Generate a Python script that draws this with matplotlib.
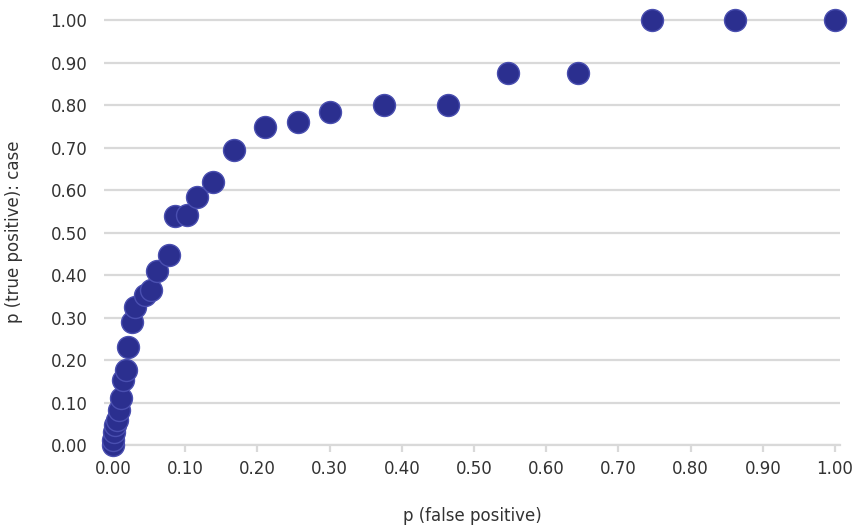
import matplotlib.pyplot as plt
import numpy as np

# puntos de la curva ROC
fp = [0.000, 0.000, 0.002, 0.003, 0.006, 0.008, 0.011, 0.014, 0.018, 0.021,
      0.026, 0.030, 0.044, 0.053, 0.061, 0.078, 0.086, 0.102, 0.116, 0.139,
      0.168, 0.210, 0.256, 0.300, 0.375, 0.464, 0.547, 0.644, 0.746, 0.862,
      1.000]
tp = [0.000, 0.012, 0.030, 0.048, 0.060, 0.082, 0.110, 0.153, 0.176, 0.230,
      0.290, 0.325, 0.353, 0.365, 0.410, 0.447, 0.539, 0.541, 0.584, 0.619,
      0.694, 0.748, 0.760, 0.784, 0.800, 0.800, 0.875, 0.875, 1.000, 1.000,
      1.000]

ticks = np.arange(0, 1.01, 0.1)
tick_labels = [f"{t:.2f}" for t in ticks]

plt.rcParams['font.family'] = ['DejaVu Sans']
fig = plt.figure(figsize=(8.54, 5.25), dpi=100)
ax = fig.add_axes([104 / 854, 1 - 445 / 525, 736 / 854, 427 / 525])

ax.scatter(fp, tp, s=250, color='#2B2F8F', edgecolors='#4A4FB0',
           linewidths=1.0, zorder=3, clip_on=False)

ax.set_xlim(-0.0125, 1.007)
ax.set_ylim(0, 1.005)
ax.set_xticks(ticks)
ax.set_xticklabels(tick_labels)
ax.set_yticks(ticks)
ax.set_yticklabels(tick_labels)

ax.grid(axis='y', color='#D9D9D9', linewidth=1.6, zorder=0)
for s in ['top', 'right', 'left']:
    ax.spines[s].set_visible(False)
ax.spines['bottom'].set_color('#D9D9D9')
ax.spines['bottom'].set_linewidth(1.6)

ax.tick_params(axis='x', length=5, width=1.6, color='#D9D9D9', pad=6,
               labelsize=12, labelcolor='#333333')
ax.tick_params(axis='y', length=0, pad=12, labelsize=12, labelcolor='#333333')

ax.set_xlabel("p (false positive)", fontsize=12, color='#333333', labelpad=21)
ax.set_ylabel("p (true positive): case", fontsize=12, color='#333333', labelpad=20)

fig.savefig("out.png", dpi=100)
